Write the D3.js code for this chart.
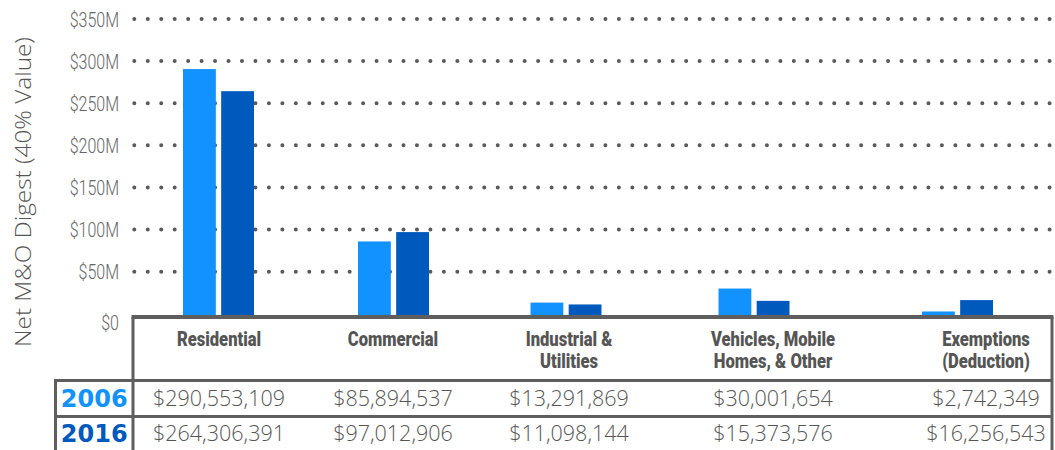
<!DOCTYPE html>
<html>
<head>
<meta charset="utf-8">
<script src="https://cdn.jsdelivr.net/npm/d3@7"></script>
<style>
  html, body { margin: 0; padding: 0; background: #fff; }
  svg { display: block; }
</style>
</head>
<body>
<svg id="chart" width="1055" height="450"></svg>
<script>
// ---- data ----
const categories = ["Residential", "Commercial", "Industrial &\nUtilities", "Vehicles, Mobile\nHomes, & Other", "Exemptions\n(Deduction)"];
const years = ["2006", "2016"];
const values2006 = [290553109, 85894537, 13291869, 30001654, 2742349];
const values2016 = [264306391, 97012906, 11098144, 15373576, 16256543];
const yTicks = [0, 50e6, 100e6, 150e6, 200e6, 250e6, 300e6, 350e6];
const yTitle = "Net M&O Digest (40% Value)";

// ---- layout ----
const W = 1055, H = 450;
const colors = { "2006": "#1192fe", "2016": "#0059bc" };
const slotCenters = [218.5, 393.5, 566, 754, 957.5];   // bar group slots
const tableCenters = [219, 393, 569, 773, 986];        // table column text slots
const tableLeft = 133, tableRight = 1052, tableTop = 317;
const headBottom = 380.5, rowMid = 416.5, yearLeft = 55.5;
const grey = "#5e5e5e";

const svg = d3.select("#chart");
svg.append("rect").attr("width", W).attr("height", H).attr("fill", "#fff");

const y = d3.scaleLinear().domain([0, 350e6]).range([313.8, 19]);
const x0 = d3.scaleOrdinal().domain(categories).range(slotCenters);
const xt = d3.scaleOrdinal().domain(categories).range(tableCenters);
const x1 = d3.scaleBand().domain(years).range([-35.5, 35.5]).paddingInner(0.14);

const series = { "2006": values2006, "2016": values2016 };

// gridlines (dotted)
svg.append("g").selectAll("line")
  .data(yTicks.filter(t => t > 0))
  .join("line")
  .attr("x1", 134.3).attr("x2", 1052)
  .attr("y1", d => y(d)).attr("y2", d => y(d))
  .attr("stroke", "#5a5a5a")
  .attr("stroke-width", 4)
  .attr("stroke-linecap", "round")
  .attr("stroke-dasharray", "0,13.46");

// y axis labels (condensed light)
const yAxis = d3.axisLeft(y).tickValues(yTicks).tickSize(0).tickPadding(14)
  .tickFormat(d => d === 0 ? "$0" : "$" + (d / 1e6) + "M");
const gAxis = svg.append("g").attr("transform", `translate(${tableLeft},0)`).call(yAxis);
gAxis.select(".domain").remove();
gAxis.selectAll("text")
  .attr("x", 0)
  .attr("transform", "translate(-14,0) scale(0.8,1)")
  .attr("fill", "#666")
  .style("font-family", "Roboto, sans-serif")
  .style("font-weight", 300)
  .style("font-size", "20px")
  .attr("dy", d => d === 0 ? "0.8em" : "0.35em");

// y title
svg.append("text")
  .attr("transform", `translate(31,${192}) rotate(-90)`)
  .attr("text-anchor", "middle")
  .attr("fill", "#555")
  .attr("textLength", 310)
  .attr("lengthAdjust", "spacingAndGlyphs")
  .style("font-family", "'Open Sans', sans-serif")
  .style("font-weight", 300)
  .style("font-size", "22px")
  .text(yTitle);

// bars
const barData = [];
categories.forEach((c, i) => years.forEach(yr => barData.push({ cat: c, year: yr, value: series[yr][i] })));
svg.append("g").selectAll("rect")
  .data(barData)
  .join("rect")
  .attr("x", d => x0(d.cat) + x1(d.year))
  .attr("width", x1.bandwidth())
  .attr("y", d => y(d.value))
  .attr("height", d => y(0) - y(d.value) + 4)
  .attr("fill", d => colors[d.year]);

// table lines
const lines = svg.append("g").attr("stroke", grey).attr("fill", "none");
lines.append("line").attr("x1", tableLeft - 1.5).attr("x2", tableRight + 1.5).attr("y1", tableTop).attr("y2", tableTop).attr("stroke-width", 4);
lines.append("line").attr("x1", tableLeft).attr("x2", tableLeft).attr("y1", tableTop).attr("y2", H).attr("stroke-width", 3);
lines.append("line").attr("x1", tableRight).attr("x2", tableRight).attr("y1", tableTop).attr("y2", H).attr("stroke-width", 3);
lines.append("line").attr("x1", yearLeft - 1.5).attr("x2", tableRight).attr("y1", headBottom).attr("y2", headBottom).attr("stroke-width", 3);
lines.append("line").attr("x1", yearLeft - 1.5).attr("x2", tableRight).attr("y1", rowMid).attr("y2", rowMid).attr("stroke-width", 3);
lines.append("line").attr("x1", yearLeft).attr("x2", yearLeft).attr("y1", headBottom).attr("y2", H).attr("stroke-width", 3);

// header labels (condensed bold)
const head = svg.append("g").selectAll("text")
  .data(categories)
  .join("text")
  .attr("transform", d => `translate(${xt(d)},346) scale(0.85,1)`)
  .attr("text-anchor", "middle")
  .attr("fill", "#555")
  .style("font-family", "Roboto, sans-serif")
  .style("font-weight", 900)
  .style("font-size", "19.5px");
head.each(function (d) {
  const t = d3.select(this);
  d.split("\n").forEach((ln, i) => {
    t.append("tspan").attr("x", 0).attr("dy", i === 0 ? 0 : 22).text(ln);
  });
});

// value rows
const fmt = d3.format("$,");
const rowY = { "2006": 398.5, "2016": 433.5 };
years.forEach(yr => {
  svg.append("g").selectAll("text")
    .data(categories.map((c, i) => ({ cat: c, v: series[yr][i] })))
    .join("text")
    .attr("x", d => xt(d.cat))
    .attr("y", rowY[yr])
    .attr("dy", "0.35em")
    .attr("text-anchor", "middle")
    .attr("fill", "#555")
    .style("font-family", "'Open Sans', sans-serif")
    .style("font-weight", 300)
    .style("font-size", "21.5px")
    .text(d => fmt(d.v));
  svg.append("text")
    .attr("x", (yearLeft + tableLeft) / 2)
    .attr("y", rowY[yr])
    .attr("dy", "0.36em")
    .attr("text-anchor", "middle")
    .attr("fill", colors[yr])
    .style("font-family", "'DejaVu Sans', sans-serif")
    .style("font-weight", "bold")
    .style("font-size", "24px")
    .text(yr);
});
</script>
</body>
</html>
